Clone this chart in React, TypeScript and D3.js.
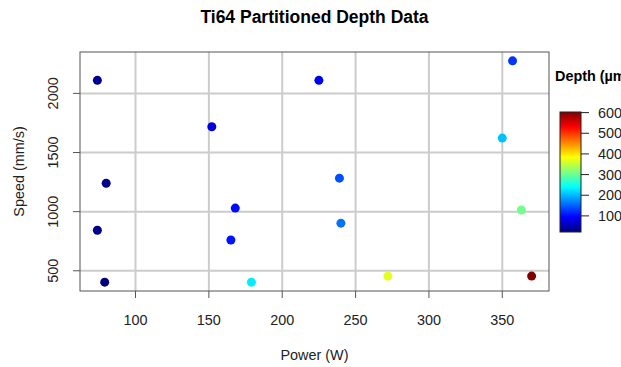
import React from 'react';
import { scaleLinear, extent } from 'd3';

// Ti64 partitioned depth data: power (W), speed (mm/s), depth (µm)
const power = [74, 152, 225, 80, 239, 168, 74, 165, 240, 79, 179, 357, 350, 363, 272, 370];
const speed = [2110, 1718, 2110, 1240, 1283, 1030, 843, 760, 903, 404, 404, 2275, 1622, 1014, 455, 455];
const depth = [35, 75, 90, 30, 140, 100, 28, 105, 160, 22, 230, 125, 205, 305, 370, 603];

const xTicks = [100, 150, 200, 250, 300, 350];
const yTicks = [500, 1000, 1500, 2000];
const depthTicks = [100, 200, 300, 400, 500, 600];

// jet palette like R's colorRampPalette
const jet = ['#00007F', '#0000FF', '#007FFF', '#00FFFF', '#7FFF7F', '#FFFF00', '#FF7F00', '#FF0000', '#7F0000'];

const W = 621;
const H = 367;
const plot = { left: 80, right: 549, top: 52, bottom: 291 };
const bar = { x: 560, w: 21, top: 112, bottom: 232 };
const font = '"Liberation Sans", Arial, sans-serif';
const fs = 14.4;

// R style 4% padding on the data range
const pad = (ext: [number, number]) => {
  const d = (ext[1] - ext[0]) * 0.04;
  return [ext[0] - d, ext[1] + d];
};

const App = () => {
  const xScale = scaleLinear()
    .domain(pad(extent(power) as [number, number]))
    .range([plot.left, plot.right]);
  const yScale = scaleLinear()
    .domain(pad(extent(speed) as [number, number]))
    .range([plot.bottom, plot.top]);

  const dExt = extent(depth) as [number, number];
  const colorScale = scaleLinear<string>()
    .domain(jet.map((_, i) => dExt[0] + (i * (dExt[1] - dExt[0])) / (jet.length - 1)))
    .range(jet);
  const barScale = scaleLinear().domain(dExt).range([bar.bottom, bar.top]);

  return (
    <svg
      width={W}
      height={H}
      style={{ position: 'absolute', left: 0, top: 0, background: '#fff' }}
      fontFamily={font}
    >
      <defs>
        <linearGradient id="jet" x1="0" y1="1" x2="0" y2="0">
          {jet.map((c, i) => (
            <stop key={i} offset={i / (jet.length - 1)} stopColor={c} />
          ))}
        </linearGradient>
      </defs>

      <text x={(plot.left + plot.right) / 2} y={23} textAnchor="middle" fontWeight="bold" fontSize={17.5}>
        Ti64 Partitioned Depth Data
      </text>

      {/* grid */}
      {xTicks.map(t => (
        <line key={'gx' + t} x1={xScale(t)} x2={xScale(t)} y1={plot.top} y2={plot.bottom} stroke="#cccccc" strokeWidth={2} />
      ))}
      {yTicks.map(t => (
        <line key={'gy' + t} x1={plot.left} x2={plot.right} y1={yScale(t)} y2={yScale(t)} stroke="#cccccc" strokeWidth={2} />
      ))}

      {/* points */}
      {power.map((p, i) => (
        <circle key={i} cx={xScale(p)} cy={yScale(speed[i])} r={4.5} fill={colorScale(depth[i])} />
      ))}

      <rect
        x={plot.left}
        y={plot.top}
        width={plot.right - plot.left}
        height={plot.bottom - plot.top}
        fill="none"
        stroke="#555"
        strokeWidth={1}
      />

      {/* x axis */}
      {xTicks.map(t => (
        <g key={'x' + t}>
          <line x1={xScale(t)} x2={xScale(t)} y1={plot.bottom} y2={plot.bottom + 7} stroke="#555" />
          <text x={xScale(t)} y={plot.bottom + 34} textAnchor="middle" fontSize={fs} fill="#222">
            {t}
          </text>
        </g>
      ))}
      <text x={(plot.left + plot.right) / 2} y={360} textAnchor="middle" fontSize={fs} fill="#222">
        Power (W)
      </text>

      {/* y axis */}
      {yTicks.map(t => (
        <g key={'y' + t}>
          <line x1={plot.left - 7} x2={plot.left} y1={yScale(t)} y2={yScale(t)} stroke="#555" />
          <text
            transform={`translate(${plot.left - 22},${yScale(t)}) rotate(-90)`}
            textAnchor="middle"
            fontSize={fs}
            fill="#222"
          >
            {t}
          </text>
        </g>
      ))}
      <text
        transform={`translate(24,${(plot.top + plot.bottom) / 2}) rotate(-90)`}
        textAnchor="middle"
        fontSize={fs}
        fill="#222"
      >
        Speed (mm/s)
      </text>

      {/* colour bar */}
      <text x={555} y={81} fontSize={fs} fontWeight="bold">
        Depth (µm)
      </text>
      <rect x={bar.x} y={bar.top} width={bar.w} height={bar.bottom - bar.top} fill="url(#jet)" stroke="#222" />
      {depthTicks.map(t => (
        <g key={'d' + t}>
          <line x1={bar.x + bar.w} x2={bar.x + bar.w + 8} y1={barScale(t)} y2={barScale(t)} stroke="#222" />
          <text x={bar.x + bar.w + 17} y={barScale(t) + 5} fontSize={fs} fill="#222">
            {t}
          </text>
        </g>
      ))}
    </svg>
  );
};

export default App;
